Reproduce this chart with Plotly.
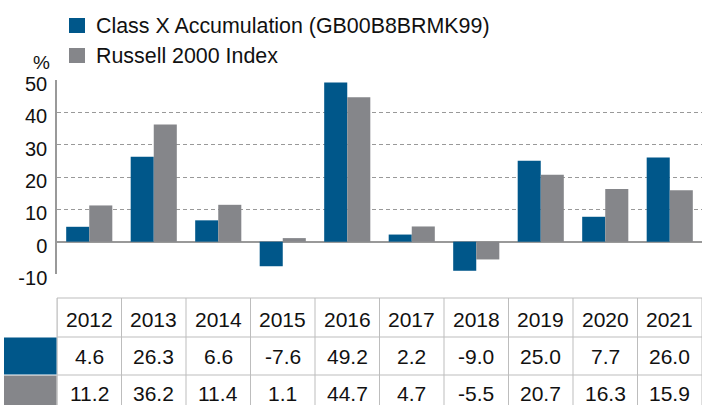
import plotly.graph_objects as go

years = ["2012", "2013", "2014", "2015", "2016", "2017", "2018", "2019", "2020", "2021"]
fund_name = "Class X Accumulation (GB00B8BRMK99)"
index_name = "Russell 2000 Index"
fund_values = [4.6, 26.3, 6.6, -7.6, 49.2, 2.2, -9.0, 25.0, 7.7, 26.0]
index_values = [11.2, 36.2, 11.4, 1.1, 44.7, 4.7, -5.5, 20.7, 16.3, 15.9]
y_ticks = [-10, 0, 10, 20, 30, 40, 50]

BLUE = "#00578A"
GREY = "#85868A"
FONT = "Liberation Sans, Arial, Helvetica, sans-serif"

W, H = 702, 405
L, R, T, B = 57, 0, 80, 131
PW = W - L - R
PH = H - T - B


def px_x(px):
    return (px - L) / PW


def px_y(py):
    return (H - B - py) / PH


fig = go.Figure()
fig.add_trace(go.Bar(x=years, y=fund_values, name=fund_name, marker_color=BLUE,
                     marker_line_width=0, showlegend=False))
fig.add_trace(go.Bar(x=years, y=index_values, name=index_name, marker_color=GREY,
                     marker_line_width=0, showlegend=False))

shapes = []
annotations = []

# legend
for i, (name, col) in enumerate([(fund_name, BLUE), (index_name, GREY)]):
    top = 18 + i * 30
    shapes.append(dict(type="rect", xref="paper", yref="paper",
                       x0=px_x(69), x1=px_x(85), y0=px_y(top + 15), y1=px_y(top),
                       fillcolor=col, line_width=0))
    annotations.append(dict(xref="paper", yref="paper", x=px_x(94), y=px_y(top + 8),
                            xanchor="left", yanchor="middle", showarrow=False,
                            text=name, font=dict(size=21.4, color="#111", family=FONT)))

annotations.append(dict(xref="paper", yref="paper", x=px_x(41), y=px_y(62),
                        xanchor="center", yanchor="middle", showarrow=False,
                        text="%", font=dict(size=19, color="#111", family=FONT)))

# table
LINE = "#BDBDBD"
row_edges = [298, 337, 375]
for ry in row_edges:
    shapes.append(dict(type="line", xref="x", yref="paper", x0=-0.5, x1=len(years) - 0.5,
                       y0=px_y(ry), y1=px_y(ry), line=dict(color=LINE, width=1)))
for i in range(len(years) + 1):
    shapes.append(dict(type="line", xref="x", yref="paper", x0=i - 0.5, x1=i - 0.5,
                       y0=px_y(298), y1=px_y(H + 2), line=dict(color=LINE, width=1)))
shapes.append(dict(type="line", xref="paper", yref="paper", x0=0, x1=0,
                   y0=px_y(298), y1=px_y(H + 2), line=dict(color=LINE, width=1)))
# swatches
shapes.append(dict(type="rect", xref="paper", yref="paper", x0=px_x(4), x1=px_x(56.5),
                   y0=px_y(374.5), y1=px_y(337.5), fillcolor=BLUE, line_width=0))
shapes.append(dict(type="rect", xref="paper", yref="paper", x0=px_x(4), x1=px_x(56.5),
                   y0=px_y(H + 2), y1=px_y(375.5), fillcolor=GREY, line_width=0))

row_centers = [319, 356, 393]
rows = [years, [f"{v:.1f}" for v in fund_values], [f"{v:.1f}" for v in index_values]]
for rc, row in zip(row_centers, rows):
    for idx, txt in enumerate(row):
        annotations.append(dict(xref="x", yref="paper", x=idx, y=px_y(rc),
                                xanchor="center", yanchor="middle", showarrow=False,
                                text=txt, font=dict(size=21, color="#111", family=FONT)))

fig.update_layout(
    width=W, height=H,
    margin=dict(l=L, r=R, t=T, b=B, pad=0),
    paper_bgcolor="white", plot_bgcolor="white",
    barmode="group", bargap=0.285, bargroupgap=0,
    font=dict(family=FONT, size=19, color="#111"),
    shapes=shapes, annotations=annotations,
    showlegend=False,
)
fig.update_xaxes(type="category", showticklabels=False, showgrid=False, zeroline=False,
                 showline=False, ticks="", range=[-0.5, len(years) - 0.5])
fig.update_yaxes(range=[-10, 50], tickvals=y_ticks, ticktext=[str(t) for t in y_ticks],
                 showgrid=True, gridcolor="#999999", griddash="4px,3px", gridwidth=1,
                 zeroline=True, zerolinecolor="#999999", zerolinewidth=1.5,
                 showline=True, linecolor="#999999", linewidth=1.5,
                 ticks="", ticklabelstandoff=4, ticklabelshift=4,
                 tickfont=dict(size=20, color="#111", family=FONT))

fig.write_html("out.html")
